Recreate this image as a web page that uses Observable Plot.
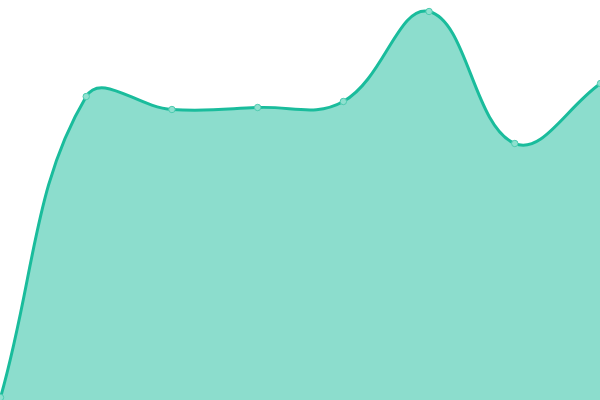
<!DOCTYPE html>
<html>
<head>
<meta charset="utf-8">
<script src="https://cdn.jsdelivr.net/npm/d3@7"></script>
<script src="https://cdn.jsdelivr.net/npm/@observablehq/plot@0.6"></script>
<style>
  html, body { margin: 0; padding: 0; background: #fff; }
</style>
</head>
<body>
<div id="chart"></div>
<script>
const categories = [0, 1, 2, 3, 4, 5, 6, 7];
const values = [0.75, 76, 72.75, 73.25, 74.75, 97.25, 64.25, 79.25];

const data = categories.map((c, i) => ({x: c, y: values[i]}));

const W = 600, H = 400;

// Tension-based bezier spline (control points from neighbours, weighted by distance)
function tensionCurve(t = 0.4, w = W, h = H) {
  return function(context) {
    let pts = [], line;
    const cap = (v, lo, hi) => Math.max(Math.min(v, hi), lo);
    return {
      areaStart() { line = 0; },
      areaEnd() { line = NaN; },
      lineStart() { pts = []; },
      point(x, y) { pts.push([+x, +y]); },
      lineEnd() {
        const n = pts.length;
        if (n) {
          const [x0, y0] = pts[0];
          if (line) context.lineTo(x0, y0); else context.moveTo(x0, y0);
          const cps = pts.map((p, i) => {
            const prev = pts[i - 1] || p, next = pts[i + 1] || p;
            const d01 = Math.hypot(p[0] - prev[0], p[1] - prev[1]);
            const d12 = Math.hypot(next[0] - p[0], next[1] - p[1]);
            let s01 = d01 / (d01 + d12), s12 = d12 / (d01 + d12);
            if (!isFinite(s01)) s01 = 0;
            if (!isFinite(s12)) s12 = 0;
            const fa = t * s01, fb = t * s12;
            const dx = next[0] - prev[0], dy = next[1] - prev[1];
            return {
              px: cap(p[0] - fa * dx, 0, w), py: cap(p[1] - fa * dy, 0, h),
              nx: cap(p[0] + fb * dx, 0, w), ny: cap(p[1] + fb * dy, 0, h)
            };
          });
          for (let i = 1; i < n; ++i) {
            context.bezierCurveTo(cps[i - 1].nx, cps[i - 1].ny, cps[i].px, cps[i].py, pts[i][0], pts[i][1]);
          }
        }
        if (line || (line !== 0 && n === 1)) context.closePath();
        line = 1 - line;
      }
    };
  };
}

const curve = tensionCurve(0.4);

const chart = Plot.plot({
  width: W,
  height: H,
  margin: 0,
  x: {domain: [0, 7], axis: null},
  y: {domain: [0, 100], axis: null},
  marks: [
    Plot.areaY(data, {x: "x", y: "y", curve, fill: "#1abc9c", fillOpacity: 0.5}),
    Plot.lineY(data, {x: "x", y: "y", curve, stroke: "#1abc9c", strokeWidth: 3}),
    Plot.dot(data, {x: "x", y: "y", r: 3.2, fill: "#8fe0cf", stroke: "#4ecbb0", strokeWidth: 1})
  ]
});
chart.style.overflow = "visible";
document.getElementById("chart").appendChild(chart);
</script>
</body>
</html>
